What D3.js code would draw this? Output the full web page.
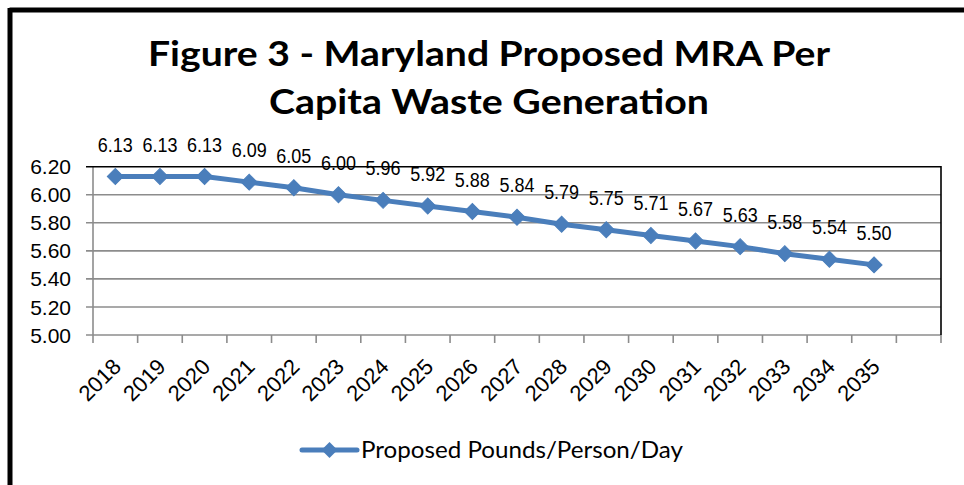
<!DOCTYPE html>
<html lang="en">
<head>
<meta charset="UTF-8" />
<title>Figure 3 - Maryland Proposed MRA Per Capita Waste Generation</title>
<script src="https://d3js.org/d3.v7.min.js"></script>
<style>
  body { margin: 0; background: #fff; }
  svg { display: block; }
  .arial { font-family: "Liberation Sans", Arial, sans-serif; }
</style>
</head>
<body>
<svg id="chart" width="964" height="485"></svg>
<script>
// chart data
const years = ["2018","2019","2020","2021","2022","2023","2024","2025","2026",
  "2027","2028","2029","2030","2031","2032","2033","2034","2035"];
const pounds = [6.13, 6.13, 6.13, 6.09, 6.05, 6.00, 5.96, 5.92, 5.88,
  5.84, 5.79, 5.75, 5.71, 5.67, 5.63, 5.58, 5.54, 5.50];
const yTicks = [5.00, 5.20, 5.40, 5.60, 5.80, 6.00, 6.20];
const titleLines = ["Figure 3 - Maryland Proposed MRA Per", "Capita Waste Generation"];
const seriesName = "Proposed Pounds/Person/Day";

const blue = "#4a7ebb";
const svg = d3.select("#chart");

// outer frame (only top and left edges show in the crop)
svg.append("line").attr("x1", 9.5).attr("x2", 964).attr("y1", 10).attr("y2", 10)
  .attr("stroke", "#000").attr("stroke-width", 5);
svg.append("line").attr("x1", 10).attr("x2", 10).attr("y1", 8).attr("y2", 485)
  .attr("stroke", "#000").attr("stroke-width", 5);

// title
svg.selectAll(".title")
  .data(titleLines)
  .enter()
  .append("text")
  .attr("class", "title")
  .attr("x", 489)
  .attr("y", (d, i) => 66 + i * 48)
  .attr("text-anchor", "middle")
  .attr("font-family", "Lato, 'Open Sans', sans-serif")
  .attr("font-weight", "bold")
  .attr("font-size", 35)
  .attr("textLength", (d, i) => i === 0 ? 682 : 440)
  .attr("lengthAdjust", "spacingAndGlyphs")
  .text(d => d);

// scales: one extra empty category after the last year, as in the original
const cats = years.concat([""]);
const x = d3.scaleBand().domain(cats).range([93, 941]).paddingInner(0).paddingOuter(0);
const y = d3.scaleLinear().domain([5.0, 6.2]).range([335, 166.7]);
const cx = d => x(d) + x.bandwidth() / 2;

const plot = svg.append("g");

// gridlines
plot.selectAll(".grid")
  .data(yTicks.slice(1, -1))
  .enter()
  .append("line")
  .attr("x1", 86).attr("x2", 941)
  .attr("y1", d => y(d)).attr("y2", d => y(d))
  .attr("stroke", "#8c8c8c").attr("stroke-width", 1.6);

// x axis with ticks at category boundaries
plot.append("line")
  .attr("x1", 86).attr("x2", 941).attr("y1", y(5)).attr("y2", y(5))
  .attr("stroke", "#8c8c8c").attr("stroke-width", 1.6);
const bounds = cats.map(c => x(c)).concat([x.range()[1]]);
plot.selectAll(".xtick")
  .data(bounds)
  .enter()
  .append("line")
  .attr("x1", d => d).attr("x2", d => d)
  .attr("y1", y(5)).attr("y2", y(5) + 8)
  .attr("stroke", "#8c8c8c").attr("stroke-width", 1.6);

// y axis line
plot.append("line")
  .attr("x1", 93).attr("x2", 93).attr("y1", y(6.2)).attr("y2", y(5))
  .attr("stroke", "#8c8c8c").attr("stroke-width", 1.6);

// plot area top and right border
plot.append("path")
  .attr("d", `M86,${y(6.2)}H941V${y(5)}`)
  .attr("fill", "none").attr("stroke", "#000").attr("stroke-width", 1.6);

// y tick labels
plot.selectAll(".ylab")
  .data(yTicks)
  .enter()
  .append("text")
  .attr("class", "arial")
  .attr("x", 71)
  .attr("y", d => y(d))
  .attr("dy", "0.36em")
  .attr("text-anchor", "end")
  .attr("font-size", 21)
  .attr("fill", "#000")
  .text(d => d.toFixed(2));

// x tick labels, rotated
plot.selectAll(".xlab")
  .data(years)
  .enter()
  .append("text")
  .attr("class", "arial")
  .attr("font-size", 22)
  .attr("text-anchor", "end")
  .attr("transform", d => `translate(${cx(d) + 7},${y(5) + 33}) rotate(-45)`)
  .text(d => d);

// series line
const line = d3.line()
  .x((d, i) => cx(years[i]))
  .y(d => y(d));
plot.append("path")
  .datum(pounds)
  .attr("d", line)
  .attr("fill", "none")
  .attr("stroke", blue)
  .attr("stroke-width", 5)
  .attr("stroke-linejoin", "round");

// diamond markers
const diamond = d3.symbol().type(d3.symbolSquare).size(128);
plot.selectAll(".pt")
  .data(pounds)
  .enter()
  .append("path")
  .attr("d", diamond)
  .attr("transform", (d, i) => `translate(${cx(years[i])},${y(d)}) rotate(45)`)
  .attr("fill", blue)
  .attr("stroke", blue)
  .attr("stroke-width", 1);

// data labels
plot.selectAll(".val")
  .data(pounds)
  .enter()
  .append("text")
  .attr("class", "arial")
  .attr("x", (d, i) => cx(years[i]))
  .attr("y", d => y(d) - 25)
  .attr("text-anchor", "middle")
  .attr("font-size", 20)
  .attr("textLength", 35)
  .attr("lengthAdjust", "spacingAndGlyphs")
  .text(d => d.toFixed(2));

// legend
const lg = svg.append("g").attr("transform", "translate(302,450)");
lg.append("line").attr("x1", 0).attr("x2", 55).attr("y1", 0).attr("y2", 0)
  .attr("stroke", blue).attr("stroke-width", 5).attr("stroke-linecap", "round");
lg.append("path").attr("d", diamond).attr("transform", "translate(27.5,0) rotate(45)")
  .attr("fill", blue);
lg.append("text")
  .attr("x", 59).attr("y", 0).attr("dy", "0.36em")
  .attr("font-family", "Lato, 'Open Sans', sans-serif")
  .attr("font-size", 23)
  .attr("textLength", 322)
  .attr("lengthAdjust", "spacingAndGlyphs")
  .text(seriesName);
</script>
</body>
</html>
